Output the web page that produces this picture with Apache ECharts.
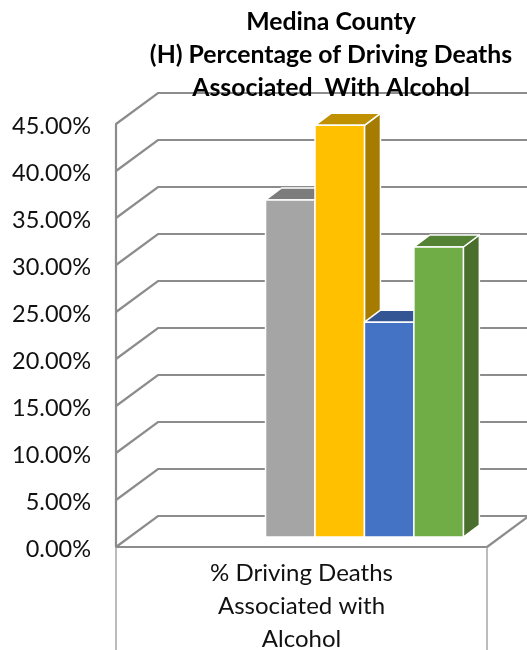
<!DOCTYPE html>
<html><head><meta charset="utf-8">
<style>html,body{margin:0;padding:0;background:#fff}#c{width:527px;height:650px}</style>
<script src="https://cdn.jsdelivr.net/npm/echarts@6/dist/echarts.min.js"></script>
</head><body><div id="c"></div>
<script>
const categories = ['% Driving Deaths\nAssociated with\nAlcohol'];
const titleText = 'Medina County\n(H) Percentage of Driving Deaths\nAssociated  With Alcohol';
const yTicks = [0, 5, 10, 15, 20, 25, 30, 35, 40, 45];
const grayValues = [35.85];
const yellowValues = [43.8];
const blueValues = [22.85];
const greenValues = [30.85];

const chart = echarts.init(document.getElementById('c'), null, {renderer: 'canvas'});
const FONT = 'Lato';
const wallDx = 42, wallDy = -31;
const barShiftX = 13.5, barShiftY = -10;
const sideDx = 16, sideDy = -12;
const barFrac = 0.1333;

function wallItem(params, api) {
  const p = api.coord([0, api.value(1)]);
  const band = api.size([1, 0])[0];
  const x0 = p[0] - band / 2;
  const right = x0 + band;
  const pts = [[x0, p[1]], [x0 + wallDx, p[1] + wallDy], [right + wallDx, p[1] + wallDy]];
  const children = [{type: 'polyline', shape: {points: pts},
    style: {stroke: '#8c8c8c', lineWidth: 2.2, fill: null}}];
  if (api.value(1) === 0) {
    children.push({type: 'line', shape: {x1: right, y1: p[1], x2: right + wallDx, y2: p[1] + wallDy},
      style: {stroke: '#8c8c8c', lineWidth: 2.2}});
  }
  return {type: 'group', children};
}

function barRenderer(index, colors) {
  return function (params, api) {
    const p = api.coord([0, api.value(1)]);
    const z = api.coord([0, 0]);
    const band = api.size([1, 0])[0];
    const w = band * barFrac;
    const left = p[0] + barShiftX + (index - 1) * w;
    const right = left + w;
    const top = p[1] + barShiftY;
    const bot = z[1] + barShiftY;
    const st = f => ({fill: f, stroke: '#ffffff', lineWidth: 1.5, lineJoin: 'round'});
    return {type: 'group', children: [
      {type: 'polygon', shape: {points: [[right, top], [right + sideDx, top + sideDy], [right + sideDx, bot + sideDy], [right, bot]]}, style: st(colors[2])},
      {type: 'polygon', shape: {points: [[left, top], [left + sideDx, top + sideDy], [right + sideDx, top + sideDy], [right, top]]}, style: st(colors[1])},
      {type: 'rect', shape: {x: left, y: top, width: w, height: bot - top}, style: st(colors[0])}
    ]};
  };
}

const barSeries = [
  [grayValues, ['#a5a5a5', '#7c7c7c', '#7c7c7c']],
  [yellowValues, ['#ffc000', '#bf9000', '#a67c00']],
  [blueValues, ['#4472c4', '#335593', '#2f5090']],
  [greenValues, ['#70ad47', '#548235', '#4a6f2c']]
].map((s, i) => ({
  type: 'custom', name: 'Series ' + (i + 1), coordinateSystem: 'cartesian2d', clip: false, z: 3 + i,
  encode: {x: 0, y: 1}, data: s[0].map((v, k) => [k, v]),
  renderItem: barRenderer(i, s[1])
}));

chart.setOption({
  animation: false,
  backgroundColor: '#fff',
  title: {
    text: titleText, left: 326, top: 1, textAlign: 'center', z: 20,
    textStyle: {fontFamily: FONT, fontWeight: 'bold', fontSize: 24.8, lineHeight: 33, color: '#000'}
  },
  grid: {left: 116, top: 124, width: 371, height: 423, outerBoundsMode: 'none', containLabel: false},
  xAxis: {
    type: 'category', data: categories,
    axisLine: {show: true, lineStyle: {color: '#8c8c8c', width: 2.2}},
    axisTick: {show: true, length: 120, lineStyle: {color: '#a6a6a6', width: 1.5}},
    axisLabel: {fontFamily: FONT, fontSize: 24, lineHeight: 33, color: '#111', margin: 10, interval: 0},
    splitLine: {show: false}
  },
  yAxis: {
    type: 'value', min: 0, max: 45, interval: 5,
    axisLine: {show: true, lineStyle: {color: '#8c8c8c', width: 2.2}},
    axisTick: {show: false},
    splitLine: {show: false},
    axisLabel: {margin: 25,
      formatter: v => '{t|' + v.toFixed(2) + '%}',
      rich: {t: {fontFamily: FONT, fontSize: 23.5, color: '#111', padding: [5, 0, 0, 0]}}}
  },
  series: [{
    type: 'custom', coordinateSystem: 'cartesian2d', clip: false, z: 1, silent: true,
    encode: {x: 0, y: 1}, data: yTicks.map(t => [0, t]), renderItem: wallItem
  }].concat(barSeries)
});
</script></body></html>
